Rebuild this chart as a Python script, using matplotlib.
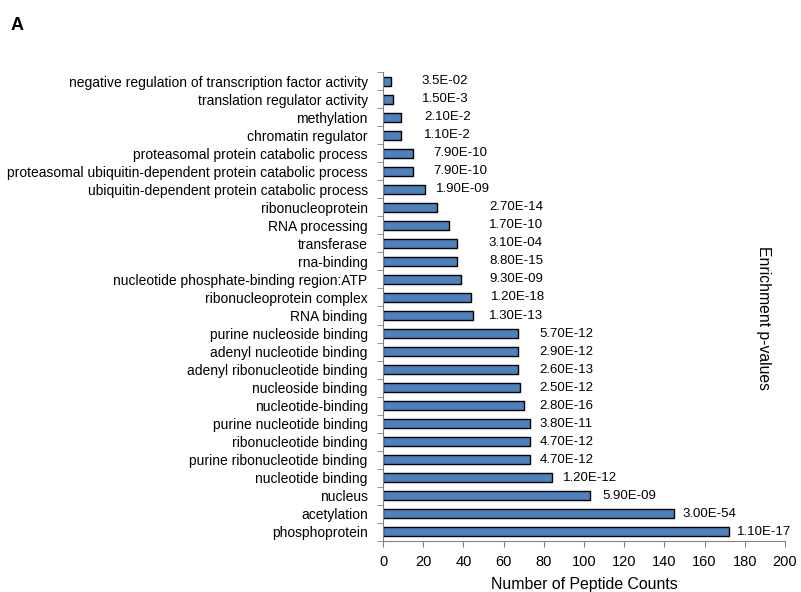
import matplotlib.pyplot as plt
import numpy as np

plt.rcParams['font.family'] = ['Liberation Sans', 'DejaVu Sans']

# categories listed bottom -> top
terms = [
    'phosphoprotein', 'acetylation', 'nucleus', 'nucleotide binding',
    'purine ribonucleotide binding', 'ribonucleotide binding',
    'purine nucleotide binding', 'nucleotide-binding', 'nucleoside binding',
    'adenyl ribonucleotide binding', 'adenyl nucleotide binding',
    'purine nucleoside binding', 'RNA binding', 'ribonucleoprotein complex',
    'nucleotide phosphate-binding region:ATP', 'rna-binding', 'transferase',
    'RNA processing', 'ribonucleoprotein',
    'ubiquitin-dependent protein catabolic process',
    'proteasomal ubiquitin-dependent protein catabolic process',
    'proteasomal protein catabolic process', 'chromatin regulator',
    'methylation', 'translation regulator activity',
    'negative regulation of transcription factor activity',
]
counts = [172, 145, 103, 84, 73, 73, 73, 70, 68, 67, 67, 67, 45, 44, 39,
          37, 37, 33, 27, 21, 15, 15, 9, 9, 5, 4]
pvalues = ['1.10E-17', '3.00E-54', '5.90E-09', '1.20E-12', '4.70E-12',
           '4.70E-12', '3.80E-11', '2.80E-16', '2.50E-12', '2.60E-13',
           '2.90E-12', '5.70E-12', '1.30E-13', '1.20E-18', '9.30E-09',
           '8.80E-15', '3.10E-04', '1.70E-10', '2.70E-14', '1.90E-09',
           '7.90E-10', '7.90E-10', '1.10E-2', '2.10E-2', '1.50E-3', '3.5E-02']

# where the p-value labels sit (x, data units), as placed in the original
label_x = [176, 149, 109, 89.5, 78, 78, 78, 78, 78, 78, 78, 78, 52.7, 53.7,
           52.7, 52.7, 52.7, 52.7, 52.7, 26.2, 24.9, 24.9, 20.4, 20.4, 19.4, 19.3]

fig = plt.figure(figsize=(8.01, 5.92), dpi=100)
ax = fig.add_axes([383 / 801, 1 - 541 / 592, (785 - 383) / 801, (541 - 72) / 592])

y = np.arange(len(terms))
ax.barh(y, counts, height=0.5, color='#4F81BD', edgecolor='black', linewidth=1)

for yi, lx, p in zip(y, label_x, pvalues):
    ax.text(lx, yi, p, va='center', ha='left', fontsize=9.5)

ax.set_xlim(0, 200)
ax.set_ylim(-0.5, len(terms) - 0.5)
ax.set_xticks(np.arange(0, 201, 20))
ax.set_yticks(y)
ax.set_yticklabels(terms, fontsize=10)
ax.set_yticks(np.arange(-0.5, len(terms), 1), minor=True)
ax.tick_params(axis='y', which='major', length=0, pad=11)
ax.tick_params(axis='y', which='minor', length=4, direction='out', color='#808080')
ax.tick_params(axis='x', labelsize=10.5, length=4, pad=6, direction='out', color='#808080')
for s in ['top', 'right']:
    ax.spines[s].set_visible(False)
for s in ['left', 'bottom']:
    ax.spines[s].set_color('#808080')

ax.set_xlabel('Number of Peptide Counts', fontsize=11.4, labelpad=6)
fig.text(763 / 801, 1 - 318 / 592, 'Enrichment p-values', rotation=270,
         ha='center', va='center', fontsize=11.3)
fig.text(11 / 801, 1 - 26 / 592, 'A', fontsize=13, fontweight='bold',
         ha='left', va='center')

fig.savefig('out.png', dpi=100)
